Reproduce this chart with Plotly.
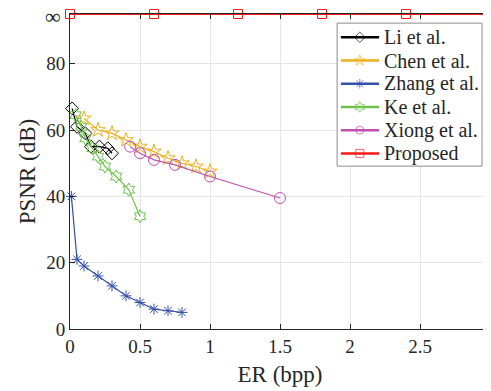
import plotly.graph_objects as go

INF = 95  # position used for the "∞" tick

li_x = [0.015, 0.05, 0.11, 0.15, 0.21, 0.27, 0.30]
li_y = [66.5, 61, 59, 55, 55, 54.5, 53]

chen_x = [0.1, 0.2, 0.3, 0.4, 0.5, 0.6, 0.7, 0.8, 0.9, 1.0]
chen_y = [63.5, 60, 59, 57, 55, 53.5, 51.5, 50, 49, 47.5]

zhang_x = [0.01, 0.05, 0.1, 0.2, 0.3, 0.4, 0.5, 0.6, 0.7, 0.8]
zhang_y = [40, 21, 19, 16, 13, 10, 8, 6, 5.5, 5]

ke_x = [0.04, 0.08, 0.11, 0.16, 0.2, 0.25, 0.33, 0.42, 0.5]
ke_y = [64.5, 61, 57.5, 54.5, 52, 49, 46, 42, 34]

xiong_x = [0.43, 0.5, 0.6, 0.75, 1.0, 1.5]
xiong_y = [55, 53, 51, 49.5, 46, 39.5]

prop_x = [0, 0.6, 1.2, 1.8, 2.4, 3.0]
prop_y = [INF] * 6

x_ticks = [0, 0.5, 1, 1.5, 2, 2.5, 3]
x_tick_labels = ["0", "0.5", "1", "1.5", "2", "2.5", "3"]
y_ticks = [0, 20, 40, 60, 80, INF]
y_tick_labels = ["0", "20", "40", "60", "80", ""]
inf_label = "∞"

series = [
    ("Li et al.", li_x, li_y, "#000000", "diamond-open", 10),
    ("Chen et al.", chen_x, chen_y, "#EDB120", "star-open", 11),
    ("Zhang et al.", zhang_x, zhang_y, "#3550A8", "asterisk-open", 9),
    ("Ke et al.", ke_x, ke_y, "#6CC24A", "hexagram-open", 10),
    ("Xiong et al.", xiong_x, xiong_y, "#C04FB0", "circle-open", 11),
    ("Proposed", prop_x, prop_y, "#FF1A1A", "square-open", 9),
]

font_family = "Times New Roman"
text_color = "#262626"

fig = go.Figure()
for name, xs, ys, col, sym, sz in series:
    lw = 2 if name == "Proposed" else 1.2
    fig.add_trace(go.Scatter(
        x=xs, y=ys, name=name, mode="lines+markers",
        line=dict(color=col, width=lw),
        marker=dict(symbol=sym, size=sz, color=col, line=dict(color=col, width=1)),
        cliponaxis=False, showlegend=False,
    ))

# --- custom legend (drawn on an overlay axis spanning [0,1] x [0,1]) ---
leg_x0, leg_x1, leg_y0, leg_y1 = 0.636, 0.981, 0.517, 0.971
row_top, row_step = 0.926, 0.0737
line_x0, line_xm, line_x1, text_x = 0.645, 0.690, 0.736, 0.744

fig.add_trace(go.Scatter(
    x=[leg_x0, leg_x1, leg_x1, leg_x0, leg_x0],
    y=[leg_y0, leg_y0, leg_y1, leg_y1, leg_y0],
    mode="lines", fill="toself", fillcolor="white",
    line=dict(color="#8c8c8c", width=1),
    xaxis="x2", yaxis="y2", showlegend=False, hoverinfo="skip", cliponaxis=False,
))

annotations = []
for i, (name, xs, ys, col, sym, sz) in enumerate(series):
    yy = row_top - i * row_step
    fig.add_trace(go.Scatter(
        x=[line_x0, line_xm, line_x1], y=[yy, yy, yy],
        mode="lines+markers", xaxis="x2", yaxis="y2",
        line=dict(color=col, width=2.5),
        marker=dict(symbol=sym, size=[0, 8, 0], color=col, line=dict(color=col, width=1)),
        showlegend=False, hoverinfo="skip", cliponaxis=False,
    ))
    annotations.append(dict(
        text=name, xref="paper", yref="paper", x=text_x, y=yy,
        xanchor="left", yanchor="middle", showarrow=False,
        font=dict(family=font_family, size=20, color=text_color),
    ))

annotations.append(dict(
    text=inf_label, xref="paper", yref="y", x=0, y=INF,
    xanchor="right", yanchor="middle", xshift=-7, yshift=-2,
    showarrow=False, font=dict(family=font_family, size=22, color=text_color),
))

fig.update_layout(
    width=483, height=383,
    margin=dict(l=62, r=1, t=6, b=62, autoexpand=False),
    paper_bgcolor="white", plot_bgcolor="white",
    font=dict(family=font_family, size=19, color=text_color),
    showlegend=False,
    xaxis=dict(
        range=[0, 3], tickvals=x_ticks, ticktext=x_tick_labels,
        showgrid=True, gridcolor="#e6e6e6", gridwidth=1,
        showline=True, linecolor=text_color, linewidth=1, mirror="ticks",
        ticks="inside", ticklen=5, tickcolor=text_color,
        zeroline=False, automargin=False, ticklabeloverflow="allow",
        title=dict(text="ER (bpp)", font=dict(family=font_family, size=23), standoff=10),
        tickfont=dict(family=font_family, size=19),
    ),
    yaxis=dict(
        range=[0, INF], tickvals=y_ticks, ticktext=y_tick_labels,
        showgrid=True, gridcolor="#e6e6e6", gridwidth=1,
        showline=True, linecolor=text_color, linewidth=1, mirror="ticks",
        ticks="inside", ticklen=5, tickcolor=text_color,
        zeroline=False, automargin=False,
        title=dict(text="PSNR (dB)", font=dict(family=font_family, size=23), standoff=4),
        tickfont=dict(family=font_family, size=19),
    ),
    xaxis2=dict(range=[0, 1], overlaying="x", visible=False, fixedrange=True),
    yaxis2=dict(range=[0, 1], overlaying="y", visible=False, fixedrange=True),
    annotations=annotations,
)

fig.write_html("out.html")
